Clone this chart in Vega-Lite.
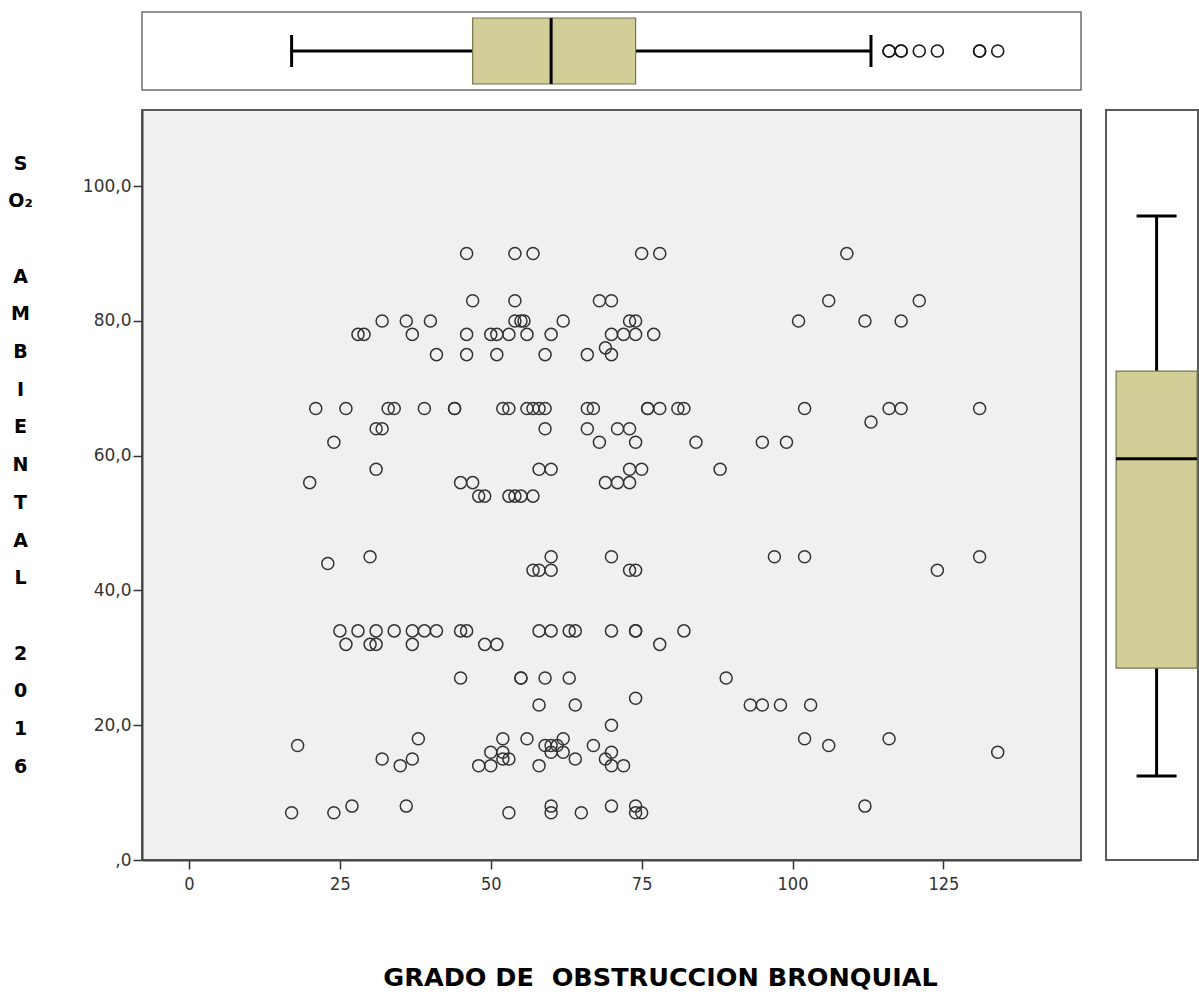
{
  "$schema": "https://vega.github.io/schema/vega-lite/v6.json",
  "padding": {"left": 6, "top": 11, "right": 0, "bottom": 0},
  "background": "white",
  "datasets": {
    "pts": [
      {"x":46,"y":90},{"x":54,"y":90},{"x":57,"y":90},{"x":75,"y":90},{"x":78,"y":90},{"x":109,"y":90},
      {"x":47,"y":83},{"x":54,"y":83},{"x":68,"y":83},{"x":70,"y":83},{"x":106,"y":83},{"x":121,"y":83},
      {"x":32,"y":80},{"x":36,"y":80},{"x":40,"y":80},{"x":54,"y":80},{"x":55,"y":80},{"x":55.5,"y":80},{"x":62,"y":80},{"x":73,"y":80},{"x":74,"y":80},{"x":101,"y":80},{"x":112,"y":80},{"x":118,"y":80},
      {"x":28,"y":78},{"x":29,"y":78},{"x":37,"y":78},{"x":46,"y":78},{"x":50,"y":78},{"x":51,"y":78},{"x":53,"y":78},{"x":56,"y":78},{"x":60,"y":78},{"x":70,"y":78},{"x":72,"y":78},{"x":74,"y":78},{"x":77,"y":78},
      {"x":69,"y":76},
      {"x":41,"y":75},{"x":46,"y":75},{"x":51,"y":75},{"x":59,"y":75},{"x":66,"y":75},{"x":70,"y":75},
      {"x":21,"y":67},{"x":26,"y":67},{"x":33,"y":67},{"x":34,"y":67},{"x":39,"y":67},{"x":44,"y":67},{"x":44,"y":67},{"x":52,"y":67},{"x":53,"y":67},{"x":56,"y":67},{"x":57,"y":67},{"x":58,"y":67},{"x":59,"y":67},{"x":66,"y":67},{"x":67,"y":67},{"x":76,"y":67},{"x":76,"y":67},{"x":78,"y":67},{"x":81,"y":67},{"x":82,"y":67},{"x":102,"y":67},{"x":116,"y":67},{"x":118,"y":67},{"x":131,"y":67},
      {"x":113,"y":65},
      {"x":31,"y":64},{"x":32,"y":64},{"x":59,"y":64},{"x":66,"y":64},{"x":71,"y":64},{"x":73,"y":64},
      {"x":24,"y":62},{"x":68,"y":62},{"x":74,"y":62},{"x":84,"y":62},{"x":95,"y":62},{"x":99,"y":62},
      {"x":31,"y":58},{"x":58,"y":58},{"x":60,"y":58},{"x":73,"y":58},{"x":75,"y":58},{"x":88,"y":58},
      {"x":20,"y":56},{"x":45,"y":56},{"x":47,"y":56},{"x":69,"y":56},{"x":71,"y":56},{"x":73,"y":56},
      {"x":48,"y":54},{"x":49,"y":54},{"x":53,"y":54},{"x":54,"y":54},{"x":55,"y":54},{"x":57,"y":54},
      {"x":30,"y":45},{"x":60,"y":45},{"x":70,"y":45},{"x":97,"y":45},{"x":102,"y":45},{"x":131,"y":45},
      {"x":23,"y":44},
      {"x":57,"y":43},{"x":58,"y":43},{"x":60,"y":43},{"x":73,"y":43},{"x":74,"y":43},{"x":124,"y":43},
      {"x":25,"y":34},{"x":28,"y":34},{"x":31,"y":34},{"x":34,"y":34},{"x":37,"y":34},{"x":39,"y":34},{"x":41,"y":34},{"x":45,"y":34},{"x":46,"y":34},{"x":58,"y":34},{"x":60,"y":34},{"x":63,"y":34},{"x":64,"y":34},{"x":70,"y":34},{"x":74,"y":34},{"x":74,"y":34},{"x":82,"y":34},
      {"x":26,"y":32},{"x":30,"y":32},{"x":31,"y":32},{"x":37,"y":32},{"x":49,"y":32},{"x":51,"y":32},{"x":78,"y":32},
      {"x":45,"y":27},{"x":55,"y":27},{"x":55,"y":27},{"x":59,"y":27},{"x":63,"y":27},{"x":89,"y":27},
      {"x":74,"y":24},
      {"x":58,"y":23},{"x":64,"y":23},{"x":93,"y":23},{"x":95,"y":23},{"x":98,"y":23},{"x":103,"y":23},
      {"x":70,"y":20},
      {"x":38,"y":18},{"x":52,"y":18},{"x":56,"y":18},{"x":62,"y":18},{"x":102,"y":18},{"x":116,"y":18},
      {"x":18,"y":17},{"x":59,"y":17},{"x":60,"y":17},{"x":61,"y":17},{"x":67,"y":17},{"x":106,"y":17},
      {"x":50,"y":16},{"x":52,"y":16},{"x":60,"y":16},{"x":62,"y":16},{"x":70,"y":16},{"x":134,"y":16},
      {"x":32,"y":15},{"x":37,"y":15},{"x":52,"y":15},{"x":53,"y":15},{"x":64,"y":15},{"x":69,"y":15},
      {"x":35,"y":14},{"x":48,"y":14},{"x":50,"y":14},{"x":58,"y":14},{"x":70,"y":14},{"x":72,"y":14},
      {"x":27,"y":8},{"x":36,"y":8},{"x":60,"y":8},{"x":70,"y":8},{"x":74,"y":8},{"x":112,"y":8},
      {"x":17,"y":7},{"x":24,"y":7},{"x":53,"y":7},{"x":60,"y":7},{"x":65,"y":7},{"x":74,"y":7},{"x":75,"y":7}
    ]
  },
  "spacing": 18,
  "resolve": {"scale": {"x": "independent", "y": "independent"}},
  "vconcat": [
    {
      "width": 939,
      "height": 78,
      "view": {"fill": "white", "stroke": "#6e6e6e", "strokeWidth": 1.5},
      "data": {"name": "pts"},
      "mark": {
        "type": "boxplot",
        "extent": 1.5,
        "size": 66,
        "color": "#d2ce98",
        "box": {"stroke": "#77734f", "strokeWidth": 1.2},
        "median": {"color": "black", "thickness": 3, "opacity": 1},
        "rule": {"color": "black", "strokeWidth": 3},
        "ticks": {"color": "black", "thickness": 3, "size": 32, "opacity": 1},
        "outliers": {"shape": "circle", "filled": false, "color": "#1a1a1a", "size": 145, "strokeWidth": 1.6, "opacity": 1}
      },
      "encoding": {
        "x": {"field": "x", "type": "quantitative", "axis": null,
              "scale": {"domain": [-7.79, 147.8], "nice": false, "zero": false}}
      }
    },
    {
      "spacing": 23,
      "resolve": {"scale": {"x": "independent", "y": "independent"}},
      "hconcat": [
        {
          "width": 939,
          "height": 750,
          "view": {"fill": "#f0f0f0", "stroke": "#5a5a5a", "strokeWidth": 2},
          "data": {"name": "pts"},
          "mark": {"type": "point", "shape": "circle", "filled": false, "stroke": "#333333", "strokeWidth": 1.5, "size": 145, "opacity": 1},
          "encoding": {
            "x": {
              "field": "x", "type": "quantitative",
              "scale": {"domain": [-7.79, 147.8], "nice": false, "zero": false},
              "axis": {
                "values": [0, 25, 50, 75, 100, 125],
                "format": "d",
                "grid": false,
                "domainColor": "#444444", "domainWidth": 2,
                "tickColor": "#333333", "tickSize": 9, "tickWidth": 1.5,
                "labelFont": "Liberation Sans Narrow, DejaVu Sans Condensed, sans-serif",
                "labelFontSize": 18, "labelColor": "#333333", "labelPadding": 6,
                "title": "GRADO DE\u00a0 OBSTRUCCION BRONQUIAL",
                "titleFont": "DejaVu Sans", "titleFontWeight": "bold", "titleFontSize": 25.5, "titleColor": "black",
                "titleAlign": "center", "titleBaseline": "middle", "titleX": 518, "titleY": 117
              }
            },
            "y": {
              "field": "y", "type": "quantitative",
              "scale": {"domain": [0, 111.3], "nice": false, "zero": false},
              "axis": {
                "values": [0, 20, 40, 60, 80, 100],
                "labelExpr": "datum.value == 0 ? ',0' : replace(format(datum.value, '.1f'), '.', ',')",
                "grid": false,
                "domainColor": "#444444", "domainWidth": 2,
                "tickColor": "#333333", "tickSize": 9, "tickWidth": 1.5,
                "labelFont": "DejaVu Sans, sans-serif",
                "labelFontSize": 17, "labelColor": "#333333", "labelPadding": 2,
                "title": ["S", "O₂", "\u200b", "A", "M", "B", "I", "E", "N", "T", "A", "L", "\u200b", "2", "0", "1", "6"],
                "titleFont": "DejaVu Sans", "titleFontWeight": "bold", "titleFontSize": 19, "titleColor": "black",
                "titleAngle": 0, "titleAlign": "center", "titleBaseline": "middle",
                "titleLineHeight": 37.7, "titleX": -122, "titleY": 53
              }
            }
          }
        },
        {
          "width": 92,
          "height": 750,
          "view": {"fill": "white", "stroke": "#5a5a5a", "strokeWidth": 2},
          "data": {"name": "pts"},
          "mark": {
            "type": "boxplot",
            "extent": 1.5,
            "size": 81,
            "color": "#d2ce98",
            "box": {"stroke": "#77734f", "strokeWidth": 1.2},
            "median": {"color": "black", "thickness": 3, "opacity": 1},
            "rule": {"color": "black", "strokeWidth": 3},
            "ticks": {"color": "black", "thickness": 3, "size": 40, "opacity": 1},
            "outliers": {"shape": "circle", "filled": false, "color": "#1a1a1a", "size": 145, "strokeWidth": 1.6, "opacity": 1}
          },
          "encoding": {
            "x": {"datum": "SO2", "type": "nominal", "axis": null,
                  "scale": {"paddingOuter": 0.5, "paddingInner": 0, "align": 0.6}},
            "y": {"field": "y", "type": "quantitative", "axis": null,
                  "scale": {"domain": [-5.45, 105.7], "nice": false, "zero": false}}
          }
        }
      ]
    }
  ]
}
